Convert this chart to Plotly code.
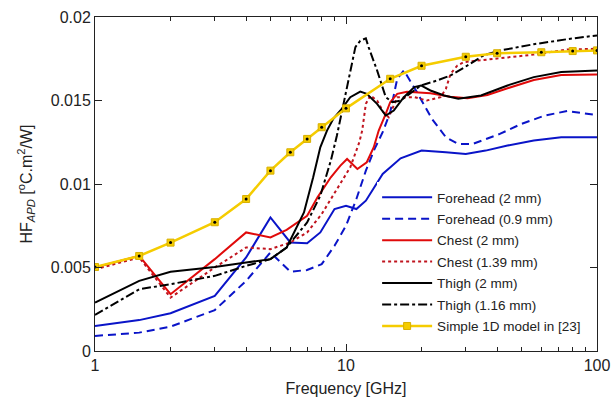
import plotly.graph_objects as go

# ---------------- data ----------------
forehead2_freq = [1, 1.5, 2, 3, 4, 5, 6, 7, 7.9, 9, 10, 11, 12, 14, 16.5, 20, 25, 30, 36, 44, 56, 72, 100]
forehead2_hf = [0.0015, 0.00185, 0.00226, 0.0033, 0.0056, 0.0080, 0.0065, 0.00645, 0.0071, 0.0085, 0.0087,
                0.0085, 0.0090, 0.0106, 0.01154, 0.0120, 0.0119, 0.0118, 0.0120, 0.0123, 0.0126, 0.0128, 0.0128]

forehead09_freq = [1, 1.5, 2, 3, 4, 5, 6, 7, 8, 9, 10, 11, 12, 13, 14, 15, 16, 17, 19, 22, 25, 28, 32,
                   41, 50, 62, 76, 100]
forehead09_hf = [0.0009, 0.0011, 0.00146, 0.00245, 0.0042, 0.0059, 0.00475, 0.00485, 0.0052, 0.0063, 0.0075,
                 0.0091, 0.0108, 0.0121, 0.0131, 0.0143, 0.0163, 0.0168, 0.0156, 0.0139, 0.0128, 0.0124,
                 0.0124, 0.0130, 0.0136, 0.0141, 0.01437, 0.01413]

chest2_freq = [1, 1.5, 2, 3, 4, 5, 5.8, 7, 7.7, 8.7, 9.5, 10.1, 11.1, 12.1, 12.9, 13.5, 14.4, 15, 16, 17.5,
               21.7, 26, 30.5, 36.6, 44, 56, 72, 100]
chest2_hf = [0.0050, 0.0057, 0.0034, 0.0055, 0.0071, 0.0068, 0.00725, 0.0081, 0.0092, 0.0104, 0.0111, 0.0115,
             0.0109, 0.0113, 0.0122, 0.0132, 0.0142, 0.0149, 0.0154, 0.01553, 0.01543, 0.01523, 0.01513,
             0.01533, 0.01573, 0.01623, 0.01653, 0.01655]

chest139_freq = [1, 1.5, 2, 3, 4, 5, 6, 7, 8, 9.2, 10.4, 11.3, 11.6, 12, 12.5, 13.3, 14.1, 14.8, 16, 18.7,
                 21, 23.8, 25, 26.1, 27.8, 29.5, 35.5, 41.4, 56, 76, 100]
chest139_hf = [0.00489, 0.0056, 0.0032, 0.0050, 0.0062, 0.0061, 0.0065, 0.0071, 0.0082, 0.0097, 0.0110,
               0.0125, 0.0132, 0.0148, 0.0153, 0.0150, 0.0143, 0.0140, 0.0152, 0.0152, 0.0150, 0.0152,
               0.0157, 0.0166, 0.0171, 0.0173, 0.01743, 0.0175, 0.01775, 0.01805, 0.0181]

thigh2_freq = [1, 1.5, 2, 3, 4, 5, 5.8, 6.8, 7.4, 7.9, 8.4, 8.9, 9.5, 10.4, 11.4, 12.1, 13.3, 14.4, 15.5, 17,
               18.7, 19.9, 21.7, 24.6, 28, 34.5, 44, 56, 72, 100]
thigh2_hf = [0.0029, 0.0042, 0.00475, 0.00503, 0.0053, 0.0055, 0.0062, 0.0083, 0.0104, 0.0122, 0.0132,
             0.0139, 0.0144, 0.0152, 0.01553, 0.0154, 0.0148, 0.0141, 0.0144, 0.0152, 0.0158, 0.0159,
             0.0156, 0.0153, 0.0151, 0.0153, 0.0159, 0.0164, 0.0167, 0.0168]

thigh116_freq = [1, 1.5, 2, 3, 4, 5, 5.8, 7, 7.9, 8.7, 9.2, 9.7, 10.3, 10.9, 11.4, 12, 12.3, 13.3, 14.4,
                 15.3, 16.5, 19.9, 23.1, 26.1, 30.5, 35.5, 41.4, 56, 76, 100]
thigh116_hf = [0.00216, 0.0037, 0.0040, 0.0045, 0.0051, 0.0055, 0.0062, 0.0077, 0.0093, 0.0114, 0.0129,
               0.0146, 0.0164, 0.0182, 0.01858, 0.01872, 0.0182, 0.0168, 0.0152, 0.0149, 0.0150, 0.0159,
               0.0162, 0.0165, 0.0171, 0.01772, 0.0180, 0.01837, 0.01867, 0.0189]

model1d_freq = [1, 1.5, 2, 3, 4, 5, 6, 7, 8, 10, 15, 20, 30, 40, 60, 80, 100]
model1d_hf = [0.00503, 0.00569, 0.00649, 0.00771, 0.0091, 0.0108, 0.0119, 0.0127, 0.0134, 0.01453, 0.0163,
              0.01708, 0.01762, 0.01783, 0.01789, 0.01796, 0.0180]

x_tick_vals = [1, 10, 100]
x_tick_text = ["1", "10", "100"]
y_tick_vals = [0, 0.005, 0.01, 0.015, 0.02]
y_tick_text = ["0", "0.005", "0.01", "0.015", "0.02"]

# ---------------- styles ----------------
BLUE = "#0A14C8"
RED = "#E00A0A"
DRED = "#C0141E"
BLACK = "#000000"
YELLOW = "#F5CC00"
FONT = "Liberation Sans, Arial, sans-serif"

fig = go.Figure()

fig.add_trace(go.Scatter(x=forehead2_freq, y=forehead2_hf, mode="lines", name="Forehead (2 mm)",
                         legendgroup="g1", line=dict(color=BLUE, width=2)))
fig.add_trace(go.Scatter(x=forehead09_freq, y=forehead09_hf, mode="lines", name="Forehead (0.9 mm)",
                         legendgroup="g2", line=dict(color=BLUE, width=2, dash="8px,5px")))
fig.add_trace(go.Scatter(x=chest2_freq, y=chest2_hf, mode="lines", name="Chest (2 mm)",
                         legendgroup="g3", line=dict(color=RED, width=2)))
fig.add_trace(go.Scatter(x=chest139_freq, y=chest139_hf, mode="lines", name="Chest (1.39 mm)",
                         legendgroup="g4", line=dict(color=DRED, width=2, dash="dot")))
fig.add_trace(go.Scatter(x=thigh2_freq, y=thigh2_hf, mode="lines", name="Thigh (2 mm)",
                         legendgroup="g5", line=dict(color=BLACK, width=2)))
fig.add_trace(go.Scatter(x=thigh116_freq, y=thigh116_hf, mode="lines", name="Thigh (1.16 mm)",
                         legendgroup="g6", line=dict(color=BLACK, width=2, dash="dashdot")))
fig.add_trace(go.Scatter(x=model1d_freq, y=model1d_hf, mode="lines+markers", name="Simple 1D model in [23]",
                         legendgroup="g7", line=dict(color=YELLOW, width=2.5),
                         marker=dict(symbol="square", size=7, color=YELLOW,
                                     line=dict(color="#D8B000", width=1))))
fig.add_trace(go.Scatter(x=model1d_freq, y=model1d_hf, mode="markers", showlegend=False,
                         legendgroup="g7",
                         marker=dict(symbol="circle", size=3, color=BLACK), hoverinfo="skip"))

fig.update_layout(
    width=611, height=401,
    margin=dict(l=95, r=14, t=17, b=50),
    paper_bgcolor="white", plot_bgcolor="white",
    font=dict(family=FONT, size=16, color="#222222"),
    showlegend=True,
    legend=dict(x=0.562, y=0.506, xanchor="left", yanchor="top", bgcolor="white",
                borderwidth=0, font=dict(family=FONT, size=13.5, color="#222222"),
                itemwidth=50, tracegroupgap=0.9),
    xaxis=dict(type="log", range=[0, 2], tickvals=x_tick_vals, ticktext=x_tick_text,
               ticks="inside", ticklen=7, tickcolor="#222", showline=True, linecolor="#222",
               linewidth=1, mirror="ticks", showgrid=False, zeroline=False, automargin=False,
               minor=dict(ticks="inside", ticklen=4, tickcolor="#222", dtick="D1", showgrid=False),
               title=dict(text="Frequency [GHz]", standoff=9, font=dict(size=16))),
    yaxis=dict(range=[0, 0.02], tickvals=y_tick_vals, ticktext=y_tick_text,
               ticks="inside", ticklen=7, tickcolor="#222", showline=True, linecolor="#222",
               linewidth=1, mirror="ticks", showgrid=False, zeroline=False, automargin=False,
               title=dict(text="HF<sub><i>APD</i></sub> [<sup>o</sup>C.m<sup>2</sup>/W]",
                          standoff=14, font=dict(size=16))),
)

fig.write_html("out.html", config={"displayModeBar": False},
               post_script="document.body.style.margin='0';")
